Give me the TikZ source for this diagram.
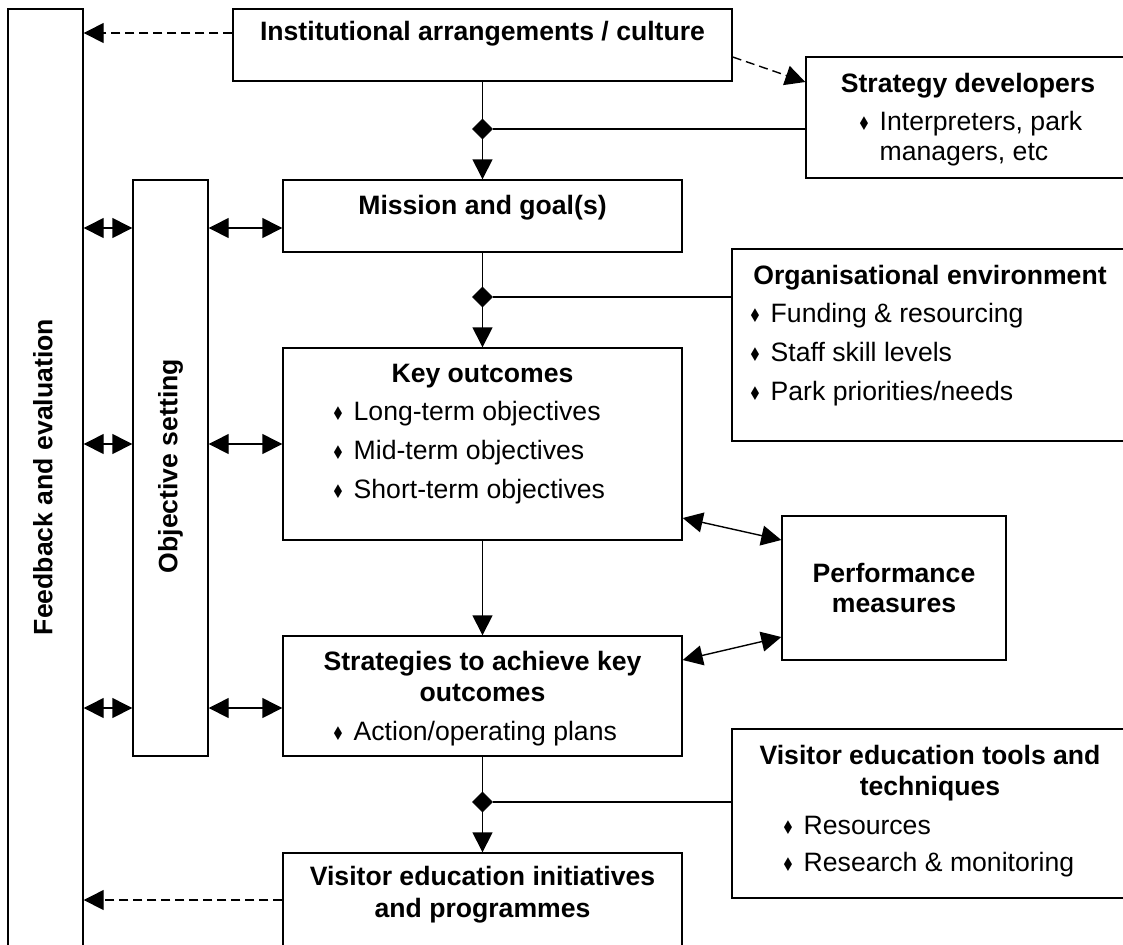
\documentclass[tikz,border=0pt]{standalone}
\usepackage{fontspec}
\setmainfont{Liberation Sans}
\newfontfamily\symfont{DejaVu Sans}
\usetikzlibrary{shapes.geometric, arrows.meta, positioning, calc}
\newcommand{\bul}{\makebox[11pt][l]{\raisebox{0.3pt}{\scalebox{0.8}[1.05]{\symfont\fontsize{9}{9}\selectfont ♦}}}}

\begin{document}
\begin{tikzpicture}[
    x=0.5pt, y=-0.5pt, line width=0.7pt,
    box/.style={draw, inner sep=0pt},
    ttl/.style={font=\fontsize{13.3}{15.5}\selectfont\bfseries, inner sep=0pt,
                text height=9.6pt, text depth=2.8pt},
    itm/.style={font=\fontsize{13.3}{15.5}\selectfont, anchor=west, inner sep=0pt,
                text height=9.6pt, text depth=2.8pt},
    junc/.style={diamond, draw, fill, line width=0.4pt, minimum width=10pt, minimum height=10pt, inner sep=0pt},
    arr/.style={-{Triangle[length=10pt, width=10pt]}},
    dbl/.style={{Triangle[length=10pt, width=10pt]}-{Triangle[length=10pt, width=10pt]}},
    dsh/.style={arr, dash pattern=on 4.5pt off 2.5pt},
]
\useasboundingbox (0,0) rectangle (1123,944);
\clip (0,0) rectangle (1123,944);

% boxes
\node[box, minimum width=37.5pt, minimum height=468.5pt] (fb) at (45.5,477.5) {};
\node[box, minimum width=37.5pt, minimum height=288pt] (obj) at (170.5,468) {};
\node[box, minimum width=249.5pt, minimum height=36pt] (inst) at (482.5,45) {};
\node[box, minimum width=167pt, minimum height=60.5pt] (sdev) at (973,117.5) {};
\node[box, minimum width=199.5pt, minimum height=36pt] (mis) at (482.5,216) {};
\node[box, minimum width=204pt, minimum height=96pt] (org) at (936,345) {};
\node[box, minimum width=199.5pt, minimum height=96pt] (key) at (482.5,444) {};
\node[box, minimum width=112pt, minimum height=72pt] (perf) at (894,588) {};
\node[box, minimum width=199.5pt, minimum height=60pt] (strat) at (482.5,696) {};
\node[box, minimum width=204pt, minimum height=84.5pt] (vtool) at (936,813.5) {};
\node[box, minimum width=199.5pt, minimum height=47pt] (vinit) at (482.5,900) {};

% texts
\node[ttl, rotate=90] (fbt) at (45.5,477) {Feedback and evaluation};
\node[ttl, rotate=90] (objt) at (170.5,466) {Objective setting};
\node[ttl] (instt) at (482.5,34) {Institutional arrangements / culture};
\node[ttl] (sdevt) at (968,86) {Strategy developers};
\node[itm] (sdev1) at (857,124) {\bul Interpreters, park};
\node[itm] (sdev2) at (879,154) {managers, etc};
\node[ttl] (mist) at (482.5,208) {Mission and goal(s)};
\node[ttl] (orgt) at (930,278) {Organisational environment};
\node[itm] (org1) at (748,316) {\bul Funding \& resourcing};
\node[itm] (org2) at (748,355) {\bul Staff skill levels};
\node[itm] (org3) at (748,394) {\bul Park priorities/needs};
\node[ttl] (keyt) at (482.5,376) {Key outcomes};
\node[itm] (key1) at (331,414) {\bul Long-term objectives};
\node[itm] (key2) at (331,453) {\bul Mid-term objectives};
\node[itm] (key3) at (331,492) {\bul Short-term objectives};
\node[ttl] (perft1) at (894,576) {Performance};
\node[ttl] (perft2) at (894,606) {measures};
\node[ttl] (stratt1) at (482.5,664) {Strategies to achieve key};
\node[ttl] (stratt2) at (482.5,695) {outcomes};
\node[itm] (strat1) at (331,734) {\bul Action/operating plans};
\node[ttl] (vtoolt1) at (930,758) {Visitor education tools and};
\node[ttl] (vtoolt2) at (930,789) {techniques};
\node[itm] (vtool1) at (781,828) {\bul Resources};
\node[itm] (vtool2) at (781,865) {\bul Research \& monitoring};
\node[ttl] (vinitt1) at (482.5,879) {Visitor education initiatives};
\node[ttl] (vinitt2) at (482.5,911) {and programmes};

% junctions
\node[junc] (j1) at (482.5,129) {};
\node[junc] (j2) at (482.5,297) {};
\node[junc] (j3) at (482.5,802) {};

% spine
\draw (inst) -- (j1);
\draw[arr] (j1) -- (mis);
\draw (j1) -- (j1 -| sdev.west);
\draw (mis) -- (j2);
\draw[arr] (j2) -- (key);
\draw (j2) -- (j2 -| org.west);
\draw[arr] (key) -- (strat);
\draw (strat) -- (j3);
\draw[arr] (j3) -- (vinit);
\draw (j3) -- (j3 -| vtool.west);

% objective setting links
\draw[dbl] ([yshift=-6pt]mis.west) -- ([yshift=-6pt]mis.west -| obj.east);
\draw[dbl] (key.west) -- (key.west -| obj.east);
\draw[dbl] ([yshift=-6pt]strat.west) -- ([yshift=-6pt]strat.west -| obj.east);
\draw[dbl] ([yshift=-6pt]mis.west -| obj.west) -- ([yshift=-6pt]mis.west -| fb.east);
\draw[dbl] (key.west -| obj.west) -- (key.west -| fb.east);
\draw[dbl] ([yshift=-6pt]strat.west -| obj.west) -- ([yshift=-6pt]strat.west -| fb.east);

% performance
\draw[dbl] ([yshift=-37pt]key.east) -- ([yshift=24pt]perf.west);
\draw[dbl] ([yshift=18pt]strat.east) -- ([yshift=-24.5pt]perf.west);

% feedback
\draw[dsh] ([yshift=6pt]inst.west) -- ([yshift=6pt]inst.west -| fb.east);
\draw[dsh] (vinit.west) -- (vinit.west -| fb.east);
\draw[dsh] ([yshift=-6pt]inst.east) -- ([yshift=17.75pt]sdev.west);
\end{tikzpicture}
\end{document}
